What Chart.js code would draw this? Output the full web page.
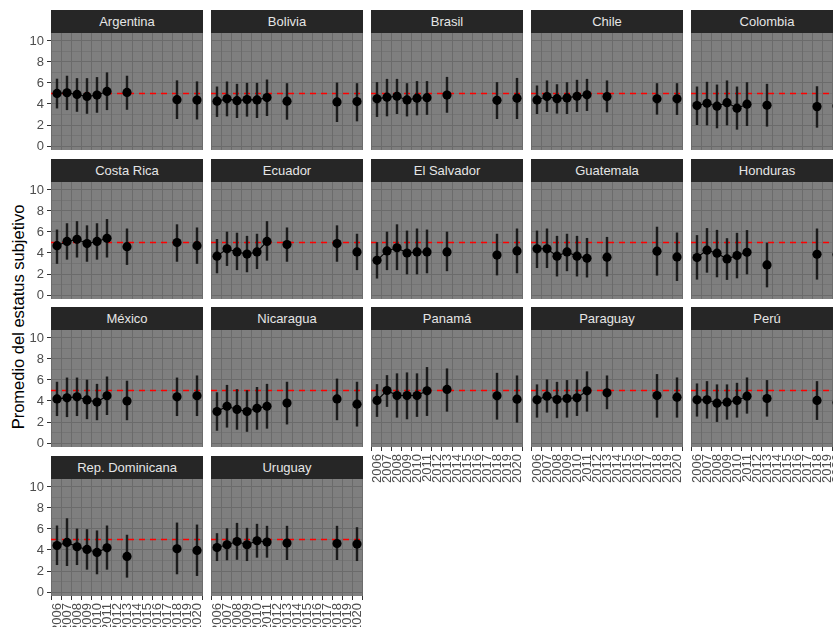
<!DOCTYPE html>
<html>
<head>
<meta charset="utf-8">
<script src="https://cdn.jsdelivr.net/npm/chart.js@4.4.1/dist/chart.umd.min.js"></script>
<style>
  html, body { margin: 0; padding: 0; background: #ffffff; }
  body { width: 833px; height: 627px; overflow: hidden; position: relative; font-family: "Liberation Sans", Arial, sans-serif; }
  .strip { position: absolute; background: #262626; color: #e5e5e5; font-size: 13px; text-align: center; height: 23px; line-height: 23px; white-space: nowrap; overflow: hidden; }
  canvas { position: absolute; }
  #ytitle { position: absolute; width: 320px; height: 20px; line-height: 20px; text-align: center; font-size: 16.5px; color: #000; transform: rotate(-90deg); transform-origin: 50% 50%; white-space: nowrap; }
</style>
</head>
<body>
<div id="ytitle">Promedio del estatus subjetivo</div>
<script>
// ---- data ----
const axisYears = [2006, 2007, 2008, 2009, 2010, 2011, 2012, 2013, 2014, 2015, 2016, 2017, 2018, 2019, 2020];
const surveyYears = [2006, 2007, 2008, 2009, 2010, 2011, 2013, 2018, 2020];
const yTicks = [0, 1, 2, 3, 4, 5, 6, 7, 8, 9, 10];
const refValue = 5;
const countries = ["Argentina", "Bolivia", "Brasil", "Chile", "Colombia",
  "Costa Rica", "Ecuador", "El Salvador", "Guatemala", "Honduras",
  "México", "Nicaragua", "Panamá", "Paraguay", "Perú",
  "Rep. Dominicana", "Uruguay"];

const meanArgentina = [5.01, 5.07, 4.91, 4.72, 4.85, 5.20, 5.10, 4.41, 4.37];
const lowArgentina  = [3.61, 3.45, 3.29, 3.10, 3.20, 3.45, 3.48, 2.60, 2.56];
const highArgentina = [6.38, 6.66, 6.43, 6.43, 6.53, 6.98, 6.66, 6.22, 6.12];

const meanBolivia = [4.27, 4.49, 4.32, 4.42, 4.39, 4.61, 4.27, 4.20, 4.23];
const lowBolivia  = [2.80, 2.86, 2.70, 2.83, 2.70, 2.89, 2.54, 2.32, 2.38];
const highBolivia = [5.63, 6.11, 5.89, 5.98, 5.98, 6.30, 5.95, 6.01, 5.95];

const meanBrasil = [4.49, 4.65, 4.74, 4.39, 4.55, 4.60, 4.85, 4.35, 4.55];
const lowBrasil  = [2.80, 2.86, 3.08, 2.85, 2.95, 3.00, 3.20, 2.60, 2.60];
const highBrasil = [6.05, 6.36, 6.36, 5.95, 6.15, 6.15, 6.55, 6.05, 6.45];

const meanChile = [4.39, 4.71, 4.51, 4.58, 4.74, 4.87, 4.71, 4.49, 4.49];
const lowChile  = [3.08, 3.27, 3.12, 3.08, 3.27, 3.37, 3.24, 3.02, 2.99];
const highChile = [5.73, 6.21, 5.85, 6.04, 6.27, 6.36, 6.21, 5.95, 5.95];

const meanColombia = [3.85, 4.07, 3.79, 4.13, 3.60, 3.98, 3.88, 3.75, 3.80];
const lowColombia  = [2.03, 2.00, 1.72, 2.00, 1.59, 1.94, 1.88, 1.78, 1.80];
const highColombia = [5.63, 6.08, 5.82, 6.21, 5.63, 6.04, 5.89, 5.66, 5.80];

const meanCostaRica = [4.70, 5.10, 5.30, 4.90, 5.10, 5.40, 4.60, 5.00, 4.70];
const lowCostaRica  = [3.00, 3.40, 3.60, 3.20, 3.40, 3.60, 2.90, 3.20, 3.00];
const highCostaRica = [6.20, 6.80, 7.00, 6.60, 6.80, 7.20, 6.30, 6.70, 6.40];

const meanEcuador = [3.70, 4.40, 4.10, 3.90, 4.10, 5.10, 4.80, 4.90, 4.10];
const lowEcuador  = [2.10, 2.80, 2.40, 2.20, 2.50, 3.30, 3.20, 3.20, 2.40];
const highEcuador = [5.30, 6.00, 5.90, 5.60, 5.80, 7.00, 6.40, 6.60, 5.80];

const meanElSalvador = [3.30, 4.20, 4.50, 4.00, 4.10, 4.10, 4.10, 3.80, 4.20];
const lowElSalvador  = [1.60, 2.40, 2.40, 2.00, 2.00, 2.10, 2.30, 1.90, 2.10];
const highElSalvador = [5.00, 6.00, 6.70, 6.10, 6.30, 6.20, 6.00, 5.80, 6.30];

const meanGuatemala = [4.40, 4.40, 3.70, 4.10, 3.70, 3.50, 3.60, 4.17, 3.63];
const lowGuatemala  = [2.60, 2.60, 1.80, 2.30, 1.80, 1.70, 1.80, 1.88, 1.37];
const highGuatemala = [6.10, 6.30, 5.60, 5.80, 5.60, 5.40, 5.50, 6.47, 5.92];

const meanHonduras = [3.57, 4.27, 3.98, 3.44, 3.76, 4.07, 2.86, 3.88, 3.85];
const lowHonduras  = [1.50, 2.16, 1.72, 1.47, 1.62, 2.00, 0.76, 1.50, 1.90];
const highHonduras = [5.67, 6.34, 6.17, 5.38, 5.89, 6.15, 4.96, 6.30, 5.80];

const meanMexico = [4.20, 4.30, 4.40, 4.10, 3.90, 4.50, 4.00, 4.40, 4.50];
const lowMexico  = [2.60, 2.50, 2.60, 2.30, 2.20, 2.70, 2.20, 2.60, 2.60];
const highMexico = [5.80, 6.20, 6.20, 6.00, 5.60, 6.30, 5.90, 6.20, 6.40];

const meanNicaragua = [3.00, 3.50, 3.20, 3.00, 3.30, 3.50, 3.80, 4.20, 3.70];
const lowNicaragua  = [1.20, 1.50, 1.30, 1.10, 1.30, 1.40, 1.80, 2.20, 1.60];
const highNicaragua = [4.80, 5.50, 5.10, 5.00, 5.30, 5.60, 5.80, 6.10, 5.80];

const meanPanama = [4.05, 5.00, 4.52, 4.52, 4.52, 4.97, 5.10, 4.49, 4.17];
const lowPanama  = [2.52, 3.47, 2.45, 2.29, 2.52, 2.61, 3.02, 2.26, 1.97];
const highPanama = [5.57, 6.43, 6.60, 6.69, 6.60, 7.20, 7.07, 6.65, 6.40];

const meanParaguay = [4.11, 4.46, 4.14, 4.24, 4.30, 4.97, 4.78, 4.52, 4.36];
const lowParaguay  = [2.45, 2.93, 2.39, 2.45, 2.61, 3.02, 3.25, 2.45, 2.45];
const highParaguay = [5.55, 6.02, 5.79, 5.96, 6.02, 6.79, 6.40, 6.53, 6.21];

const meanPeru = [4.11, 4.11, 3.79, 3.89, 4.05, 4.46, 4.24, 4.05, 3.85];
const lowPeru  = [2.55, 2.36, 2.04, 2.26, 2.45, 2.83, 2.55, 2.23, 2.00];
const highPeru = [5.64, 5.86, 5.55, 5.55, 5.70, 6.21, 5.96, 5.86, 5.70];

const meanRepDominicana = [4.43, 4.72, 4.31, 4.05, 3.77, 4.21, 3.39, 4.12, 3.96];
const lowRepDominicana  = [2.60, 2.51, 2.60, 2.16, 1.72, 2.16, 1.40, 1.72, 1.56];
const highRepDominicana = [6.30, 6.99, 6.01, 5.95, 5.83, 6.30, 5.42, 6.58, 6.39];

const meanUruguay = [4.24, 4.50, 4.81, 4.50, 4.88, 4.75, 4.66, 4.62, 4.56];
const lowUruguay  = [2.98, 3.05, 3.10, 2.98, 3.30, 3.30, 3.08, 3.08, 2.98];
const highUruguay = [5.57, 6.04, 6.55, 6.08, 6.46, 6.27, 6.27, 6.27, 6.14];

const series = [
  [meanArgentina, lowArgentina, highArgentina],
  [meanBolivia, lowBolivia, highBolivia],
  [meanBrasil, lowBrasil, highBrasil],
  [meanChile, lowChile, highChile],
  [meanColombia, lowColombia, highColombia],
  [meanCostaRica, lowCostaRica, highCostaRica],
  [meanEcuador, lowEcuador, highEcuador],
  [meanElSalvador, lowElSalvador, highElSalvador],
  [meanGuatemala, lowGuatemala, highGuatemala],
  [meanHonduras, lowHonduras, highHonduras],
  [meanMexico, lowMexico, highMexico],
  [meanNicaragua, lowNicaragua, highNicaragua],
  [meanPanama, lowPanama, highPanama],
  [meanParaguay, lowParaguay, highParaguay],
  [meanPeru, lowPeru, highPeru],
  [meanRepDominicana, lowRepDominicana, highRepDominicana],
  [meanUruguay, lowUruguay, highUruguay]
];

// ---- layout ----
const NCOL = 5;
const colLeft = [51, 211, 371, 531, 691];
const rowTop = [10, 159, 307, 456];
const stripH = 23, panelW = 152, panelH = 117;
const leftAxisW = 51, bottomAxisH = 45;
const FONT = '"Liberation Sans", Arial, sans-serif';

const yt = document.getElementById('ytitle');
yt.style.left = (17.5 - 160) + 'px';
yt.style.top = (317 - 10) + 'px';

const bgPlugin = {
  id: 'panelBg',
  beforeDraw(chart) {
    const { ctx, chartArea: a } = chart;
    ctx.save();
    ctx.fillStyle = '#7f7f7f';
    ctx.fillRect(a.left, a.top, a.right - a.left, a.bottom - a.top);
    ctx.restore();
  }
};
const refPlugin = {
  id: 'refLine',
  beforeDatasetsDraw(chart) {
    const { ctx, chartArea: a, scales } = chart;
    const y = scales.y.getPixelForValue(refValue);
    ctx.save();
    ctx.beginPath();
    ctx.rect(a.left, a.top, a.right - a.left, a.bottom - a.top);
    ctx.clip();
    ctx.strokeStyle = '#ff0000';
    ctx.lineWidth = 1.7;
    ctx.setLineDash([6, 5]);
    ctx.beginPath();
    ctx.moveTo(a.left, y);
    ctx.lineTo(a.right, y);
    ctx.stroke();
    ctx.restore();
  }
};

countries.forEach((name, i) => {
  const col = i % NCOL, row = Math.floor(i / NCOL);
  const isLeft = col === 0;
  const isBottom = i + NCOL >= countries.length;
  const [mean, low, high] = series[i];

  const strip = document.createElement('div');
  strip.className = 'strip';
  strip.style.left = colLeft[col] + 'px';
  strip.style.top = rowTop[row] + 'px';
  strip.style.width = panelW + 'px';
  strip.textContent = name;
  document.body.appendChild(strip);

  const cv = document.createElement('canvas');
  const w = panelW + (isLeft ? leftAxisW : 0);
  const h = panelH + (isBottom ? bottomAxisH : 0);
  cv.width = w; cv.height = h;
  cv.style.width = w + 'px'; cv.style.height = h + 'px';
  cv.style.left = (isLeft ? colLeft[col] - leftAxisW : colLeft[col]) + 'px';
  cv.style.top = (rowTop[row] + stripH) + 'px';
  document.body.appendChild(cv);

  const points = axisYears.map(yr => {
    const k = surveyYears.indexOf(yr);
    return { x: yr, y: k >= 0 ? mean[k] : null };
  });
  const bars = surveyYears.map((yr, k) => ({ x: yr, y: [low[k], high[k]] }));

  new Chart(cv, {
    type: 'line',
    data: {
      datasets: [
        { type: 'line', data: points, borderColor: '#000000', borderWidth: 1.1,
          pointRadius: 4.6, pointBackgroundColor: '#000000', pointBorderWidth: 0,
          pointHoverRadius: 4.6, spanGaps: false, order: 1, clip: 6 },
        { type: 'bar', data: bars, backgroundColor: '#1c1c1c', borderWidth: 0,
          barThickness: 1.8, order: 2 }
      ]
    },
    options: {
      responsive: false, animation: false, devicePixelRatio: 1,
      layout: { padding: 0, autoPadding: false },
      events: [],
      plugins: { legend: { display: false }, tooltip: { enabled: false }, title: { display: false } },
      scales: {
        x: {
          type: 'linear', min: 2005.4, max: 2020.6, offset: false,
          afterBuildTicks: s => { s.ticks = axisYears.map(v => ({ value: v })); },
          afterFit: s => { s.height = isBottom ? bottomAxisH : 0; s.paddingLeft = 0; s.paddingRight = 0; },
          ticks: { display: isBottom, autoSkip: false, minRotation: 90, maxRotation: 90,
                   callback: v => String(v), color: '#4d4d4d', padding: 3,
                   font: { family: FONT, size: 13 } },
          grid: { color: '#6b6b6b', lineWidth: 1, drawTicks: isBottom, tickLength: 4, tickColor: '#333333' },
          border: { display: false }
        },
        y: {
          type: 'linear', min: -0.38, max: 10.76,
          afterBuildTicks: s => { s.ticks = yTicks.map(v => ({ value: v })); },
          afterFit: s => { s.width = isLeft ? leftAxisW : 0; s.paddingTop = 0; s.paddingBottom = 0; },
          ticks: { display: isLeft, autoSkip: false, callback: v => (v % 2 === 0 ? String(v) : ''),
                   color: '#4d4d4d', padding: 3, font: { family: FONT, size: 13 } },
          grid: { color: '#6b6b6b',
                  lineWidth: c => (c.tick && c.tick.value % 2 === 0 ? 1 : 0.5),
                  drawTicks: isLeft, tickLength: 4,
                  tickColor: c => (c.tick && c.tick.value % 2 === 0 ? '#333333' : 'rgba(0,0,0,0)') },
          border: { display: false }
        }
      }
    },
    plugins: [bgPlugin, refPlugin]
  });
});
</script>
</body>
</html>
